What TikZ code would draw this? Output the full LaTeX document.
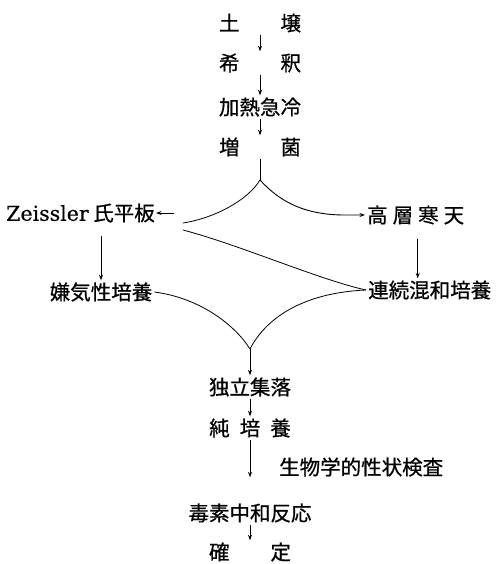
\documentclass[tikz,border=0pt]{standalone}
\usepackage{fontspec}
\newfontfamily\jp[BoldFont={Noto Sans CJK JP}, BoldFeatures={FakeBold=0.7}]{Noto Sans CJK JP}
\newfontfamily\lat[BoldFont={DejaVu Serif}, BoldFeatures={FakeBold=0.5}]{DejaVu Serif}
\usetikzlibrary{arrows.meta}
\tikzset{
  lbl/.style={font=\jp\bfseries\fontsize{20.5}{24}\selectfont, inner sep=2pt},
  arr/.style={draw, line width=0.9pt, -{Stealth[length=5.5pt,width=4pt]}},
  ln/.style={draw, line width=0.8pt}
}
\begin{document}
\begin{tikzpicture}[x=1pt,y=1pt]
\useasboundingbox (0,0) rectangle (495,-564);
% central column
\node[lbl] (soil) at (260,-23) {土　　壌};
\node[lbl] (dil)  at (260,-63) {希　　釈};
\node[lbl] (heat) at (260,-107) {加熱急冷};
\node[lbl] (enr)  at (260,-147) {増　　菌};
\coordinate (j) at (260,-180);
% branches
\node[lbl, anchor=east, inner sep=1pt] (zeiss) at (156,-213) {{\lat\bfseries\fontsize{20.5}{24}\selectfont Zeissler} 氏平板};
\node[lbl, anchor=west] (tall) at (365,-215) {高\hspace{5pt}層\hspace{5pt}寒\hspace{5pt}天};
\node[lbl] (anaer) at (101,-292) {嫌気性培養};
\node[lbl, anchor=west] (cont) at (366,-290) {連続混和培養};
\coordinate (b) at (250,-349);
% lower column
\node[lbl] (colony) at (250,-387) {独立集落};
\node[lbl] (pure)   at (250,-428) {純\hspace{10pt}培\hspace{10pt}養};
\node[lbl, anchor=west] (bio) at (277,-467) {生物学的性状検査};
\node[lbl] (toxin)  at (250,-513) {毒素中和反応};
\node[lbl] (conf)   at (250,-552) {確　　定};
% coordinates for free ends
\coordinate (zc) at (183,-223);
\coordinate (za) at (174,-213);
\coordinate (dg) at (183,-230);
\coordinate (tc) at (345,-215);
% connectors
\draw[arr] (soil) -- (dil);
\draw[arr] (dil) -- (heat);
\draw[arr] (heat) -- (enr);
\draw[ln] (enr) -- (j);
\draw[ln] (j) .. controls (248,-200) and (215,-218) .. (zc);
\draw[arr] (za) -- (zeiss.east);
\draw[arr] (j) .. controls (280,-202) and (305,-215) .. (tc) -- (tall.west);
\draw[ln] (dg) .. controls (240,-245) and (320,-280) .. (cont.west);
\draw[arr, shorten <=12pt] (anaer |- zeiss.south) -- (anaer.north);
\draw[arr, shorten <=12pt] ([xshift=2pt]tall.south) -- ([xshift=2pt]tall.south |- cont.north);
\draw[ln] (anaer.east) .. controls (200,-298) and (235,-325) .. (b);
\draw[ln] (cont.west) .. controls (300,-293) and (265,-320) .. (b);
\draw[arr] (b) -- (colony);
\draw[arr] (colony) -- (pure);
\draw[arr, shorten >=24pt] (pure) -- (toxin);
\draw[arr] (toxin) -- (conf);
\end{tikzpicture}
\end{document}
